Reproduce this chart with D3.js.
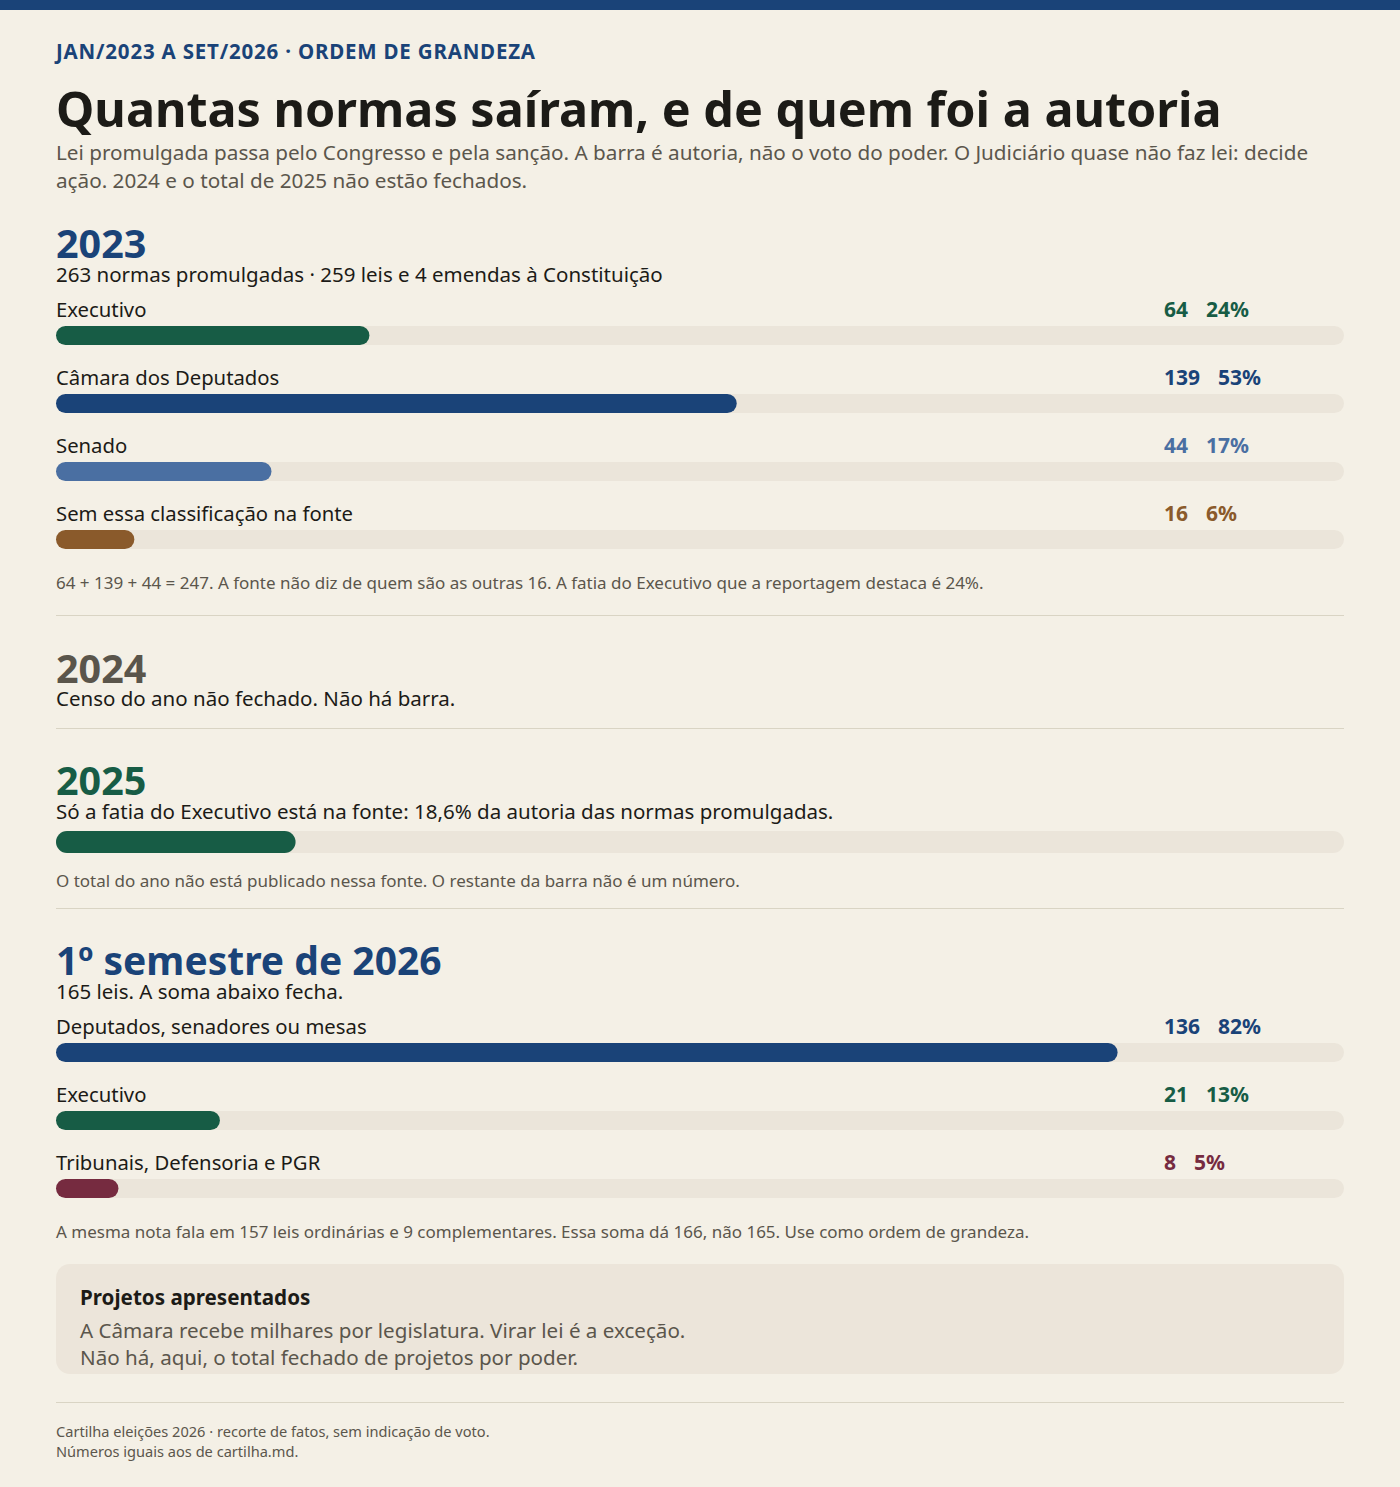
<!DOCTYPE html>
<html>
<head>
<meta charset="utf-8">
<script src="https://cdn.jsdelivr.net/npm/d3@7"></script>
<style>
  html, body { margin: 0; padding: 0; background: #f4f0e6; }
  svg { display: block; }
  text { font-family: "Noto Sans", Lato, sans-serif; }
</style>
</head>
<body>
<div id="chart"></div>
<script>
// data
const kicker = 'JAN/2023 A SET/2026 · ORDEM DE GRANDEZA';
const title = 'Quantas normas saíram, e de quem foi a autoria';
const subtitleLines = [
  'Lei promulgada passa pelo Congresso e pela sanção. A barra é autoria, não o voto do poder. O Judiciário quase não faz lei: decide',
  'ação. 2024 e o total de 2025 não estão fechados.'
];

const total2023 = 263;
const authors2023 = ['Executivo', 'Câmara dos Deputados', 'Senado', 'Sem essa classificação na fonte'];
const counts2023 = [64, 139, 44, 16];
const pcts2023 = ['24%', '53%', '17%', '6%'];
const note2023 = '64 + 139 + 44 = 247. A fonte não diz de quem são as outras 16. A fatia do Executivo que a reportagem destaca é 24%.';

const note2024 = 'Censo do ano não fechado. Não há barra.';

const share2025 = 18.6;
const sub2025 = 'Só a fatia do Executivo está na fonte: 18,6% da autoria das normas promulgadas.';
const note2025 = 'O total do ano não está publicado nessa fonte. O restante da barra não é um número.';

const total2026 = 165;
const authors2026 = ['Deputados, senadores ou mesas', 'Executivo', 'Tribunais, Defensoria e PGR'];
const counts2026 = [136, 21, 8];
const pcts2026 = ['82%', '13%', '5%'];
const note2026 = 'A mesma nota fala em 157 leis ordinárias e 9 complementares. Essa soma dá 166, não 165. Use como ordem de grandeza.';

const boxTitle = 'Projetos apresentados';
const boxLines = ['A Câmara recebe milhares por legislatura. Virar lei é a exceção.', 'Não há, aqui, o total fechado de projetos por poder.'];
const footerLines = ['Cartilha eleições 2026 · recorte de fatos, sem indicação de voto.', 'Números iguais aos de cartilha.md.'];

// styles
const C = {
  bg: '#f4f0e6', track: '#ebe5da', blue: '#1a4378', green: '#175c45', sky: '#4a6fa2',
  brown: '#8a5a2b', wine: '#762b40', ink: '#1c1b17', grey: '#5b564c', rule: '#d9d4c4', y2024: '#5a554b'
};
const colorByAuthor = new Map([
  ['Executivo', C.green],
  ['Câmara dos Deputados', C.blue],
  ['Senado', C.sky],
  ['Sem essa classificação na fonte', C.brown],
  ['Deputados, senadores ou mesas', C.blue],
  ['Tribunais, Defensoria e PGR', C.wine]
]);

const width = 1400, height = 1487;
const left = 56, right = 1344, trackW = right - left;
const valueX = 1164;

const svg = d3.select('#chart').append('svg')
  .attr('width', width).attr('height', height);

svg.append('rect').attr('width', width).attr('height', height).attr('fill', C.bg);
svg.append('rect').attr('width', width).attr('height', 10).attr('fill', C.blue);

function txt(x, y, s, size, color, weight, ls) {
  return svg.append('text')
    .attr('x', x).attr('y', y)
    .attr('font-size', size)
    .attr('font-weight', weight || 400)
    .attr('letter-spacing', ls || 0)
    .attr('fill', color)
    .text(s);
}

function rule(y) {
  svg.append('line')
    .attr('x1', left).attr('x2', right)
    .attr('y1', y + 0.5).attr('y2', y + 0.5)
    .attr('stroke', C.rule).attr('stroke-width', 1);
}

// header
txt(left, 59, kicker, 20.5, C.blue, 700, 0.8);
txt(left, 127, title, 48.5, C.ink, 700);
subtitleLines.forEach((l, i) => txt(left, 160 + i * 28, l, 20.7, C.grey, 400));

// bar group: label, value + pct, track and fill
function barRows(labels, counts, pcts, total, y0) {
  const x = d3.scaleLinear().domain([0, total]).range([0, trackW]);
  const rows = labels.map((l, i) => ({label: l, count: counts[i], pct: pcts[i]}));
  const g = svg.append('g').attr('transform', `translate(${left},${y0})`);
  const row = g.selectAll('g.row').data(rows).join('g')
    .attr('class', 'row')
    .attr('transform', (d, i) => `translate(0,${i * 68})`);

  row.append('text')
    .attr('y', 0)
    .attr('font-size', 20.3)
    .attr('fill', C.ink)
    .text(d => d.label);

  const val = row.append('text')
    .attr('x', valueX - left)
    .attr('y', 0)
    .attr('font-size', 21)
    .attr('font-weight', 700)
    .attr('fill', d => colorByAuthor.get(d.label));
  val.append('tspan').text(d => d.count);
  val.append('tspan').attr('dx', 18).text(d => d.pct);

  row.append('rect')
    .attr('y', 9).attr('height', 19)
    .attr('width', x(total)).attr('rx', 9.5)
    .attr('fill', C.track);
  row.append('rect')
    .attr('y', 9).attr('height', 19)
    .attr('width', d => x(d.count)).attr('rx', 9.5)
    .attr('fill', d => colorByAuthor.get(d.label));
}

// 2023
txt(left, 258, '2023', 39.5, C.blue, 700);
txt(left, 282, `${total2023} normas promulgadas · 259 leis e 4 emendas à Constituição`, 20.5, C.ink, 400);
barRows(authors2023, counts2023, pcts2023, total2023, 317);
txt(left, 589, note2023, 17, C.grey, 400);
rule(615);

// 2024
txt(left, 683, '2024', 39.5, C.y2024, 700);
txt(left, 706, note2024, 20.5, C.ink, 400);
rule(728);

// 2025
txt(left, 795, '2025', 39.5, C.green, 700);
txt(left, 819, sub2025, 20.5, C.ink, 400);
const x25 = d3.scaleLinear().domain([0, 100]).range([0, trackW]);
svg.append('rect')
  .attr('x', left).attr('y', 831).attr('height', 22)
  .attr('width', x25(100)).attr('rx', 11).attr('fill', C.track);
svg.append('rect')
  .attr('x', left).attr('y', 831).attr('height', 22)
  .attr('width', x25(share2025)).attr('rx', 11).attr('fill', C.green);
txt(left, 887, note2025, 17, C.grey, 400);
rule(908);

// 1st half 2026
txt(left, 975, '1º semestre de 2026', 39, C.blue, 700);
txt(left, 999, `${total2026} leis. A soma abaixo fecha.`, 20.5, C.ink, 400);
barRows(authors2026, counts2026, pcts2026, total2026, 1034);
txt(left, 1238, note2026, 17, C.grey, 400);

// box
svg.append('rect')
  .attr('x', left).attr('y', 1264)
  .attr('width', trackW).attr('height', 110)
  .attr('rx', 14).attr('fill', '#ece5da');
txt(80, 1305, boxTitle, 20.6, C.ink, 700);
boxLines.forEach((l, i) => txt(80, 1338 + i * 27, l, 20.6, C.grey, 400));

rule(1402);
footerLines.forEach((l, i) => txt(left, 1437 + i * 20, l, 14.6, C.grey, 400));
</script>
</body>
</html>
